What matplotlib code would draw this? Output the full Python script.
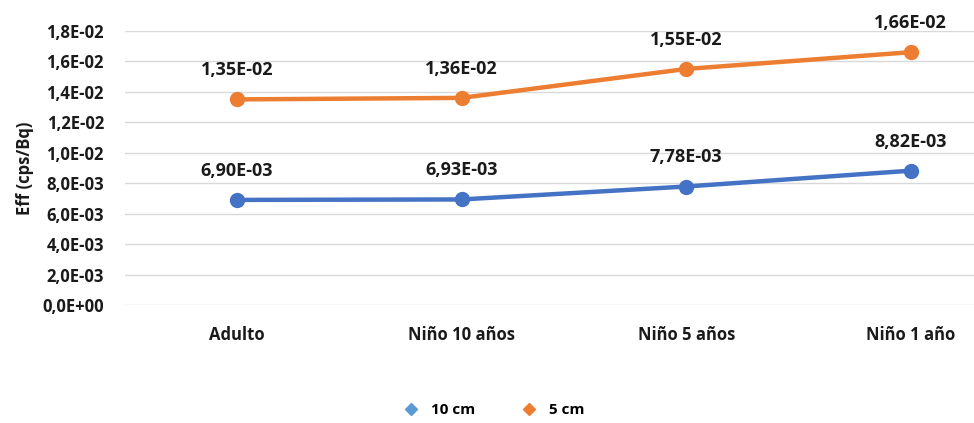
import matplotlib
matplotlib.use("Agg")
import matplotlib.pyplot as plt
from matplotlib.lines import Line2D
from matplotlib.ticker import FuncFormatter

categories = ["Adulto", "Niño 10 años", "Niño 5 años", "Niño 1 año"]
eff_10cm = [6.90e-3, 6.93e-3, 7.78e-3, 8.82e-3]
eff_5cm = [1.35e-2, 1.36e-2, 1.55e-2, 1.66e-2]
y_ticks = [i * 2e-3 for i in range(10)]

plt.rcParams["font.family"] = ["Open Sans", "DejaVu Sans"]
plt.rcParams["font.weight"] = "bold"

BLUE = "#4472C4"
ORANGE = "#ED7D31"
TEXT = "#1a1a1a"

fig = plt.figure(figsize=(9.74, 4.23), dpi=100)
# plot area runs past the right edge, as in the cropped reference
ax = fig.add_axes([0.128, 0.279, 0.9225, 0.648])

x = range(len(categories))
for values, color in ((eff_10cm, BLUE), (eff_5cm, ORANGE)):
    ax.plot(x, values, color=color, lw=3.2, marker="o", ms=10,
            solid_capstyle="round", clip_on=False, zorder=3)
    for xi, v in zip(x, values):
        ax.annotate(f"{v:.2E}".replace(".", ","), (xi, v), xytext=(0, 21),
                    textcoords="offset points", ha="center", va="center",
                    fontsize=13, fontweight="bold", color=TEXT)

ax.set_xlim(-0.5, len(categories) - 0.5)
ax.set_ylim(0, 0.018)
ax.set_yticks(y_ticks)
ax.yaxis.set_major_formatter(FuncFormatter(lambda v, _: f"{v:.1E}".replace(".", ",")))
ax.set_xticks(list(x))
ax.set_xticklabels(categories)
ax.tick_params(axis="both", length=0, labelsize=12, colors=TEXT)
ax.tick_params(axis="x", pad=15)
ax.tick_params(axis="y", pad=15)
for label in ax.get_xticklabels() + ax.get_yticklabels():
    label.set_fontweight("bold")

ax.grid(axis="y", color="#D9D9D9", lw=1)
ax.set_axisbelow(True)
for spine in ax.spines.values():
    spine.set_visible(False)

ax.set_ylabel("Eff (cps/Bq)", fontsize=12, fontweight="bold", color=TEXT, labelpad=6)

handles = [
    Line2D([], [], ls="none", marker="D", ms=6, color="#5B9BD5"),
    Line2D([], [], ls="none", marker="D", ms=6, color=ORANGE),
]
fig.legend(handles, ["10 cm", "5 cm"], loc="center", bbox_to_anchor=(490 / 974, 1 - 410 / 423),
           ncol=2, frameon=False, handletextpad=0.3, columnspacing=2.5,
           prop={"weight": "bold", "size": 11})

fig.savefig("out.png", dpi=100)
